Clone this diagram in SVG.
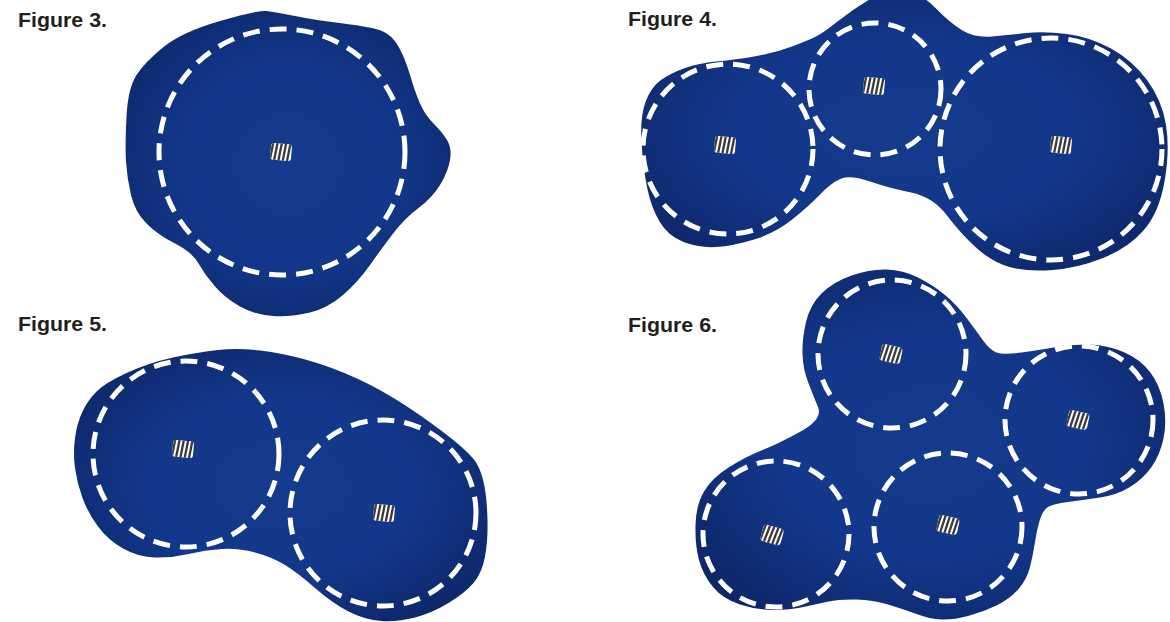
<svg xmlns="http://www.w3.org/2000/svg" xmlns:xlink="http://www.w3.org/1999/xlink" width="1170" height="622" viewBox="0 0 1170 622">
<style>
.lbl{font-family:"Liberation Sans",Arial,sans-serif;font-weight:bold;font-size:20px;fill:#231f20}
.blob{stroke:none}
.ring{fill:none;stroke:#fff;stroke-width:5;stroke-dasharray:17 10}
</style>
<defs>
<radialGradient id="g" cx="0.5" cy="0.5" r="0.6">
<stop offset="0" stop-color="#153b8c"/>
<stop offset="0.55" stop-color="#13378a"/>
<stop offset="1" stop-color="#0d2769"/>
</radialGradient>
<clipPath id="ic"><rect x="-10.5" y="-8.5" width="21" height="17" rx="3.5"/></clipPath>
<g id="icon">
<g clip-path="url(#ic)">
<rect x="-11" y="-9" width="22" height="18" fill="#fff"/>
<g stroke="#3a3a3a" stroke-width="2.3">
<line x1="-10.5" y1="9" x2="-8.5" y2="-9"/>
<line x1="-6.2" y1="9" x2="-4.2" y2="-9"/>
<line x1="-1.9" y1="9" x2="0.1" y2="-9"/>
<line x1="2.4" y1="9" x2="4.4" y2="-9"/>
<line x1="6.7" y1="9" x2="8.7" y2="-9"/>
</g>
</g>
</g>
</defs>
<rect width="1170" height="622" fill="#fff"/>

<g id="labels">
<text class="lbl" x="18" y="27" textLength="89" lengthAdjust="spacingAndGlyphs">Figure 3.</text>
<text class="lbl" x="628" y="26" textLength="89" lengthAdjust="spacingAndGlyphs">Figure 4.</text>
<text class="lbl" x="18" y="331" textLength="89" lengthAdjust="spacingAndGlyphs">Figure 5.</text>
<text class="lbl" x="628" y="332" textLength="89" lengthAdjust="spacingAndGlyphs">Figure 6.</text>
</g>

<g id="figure3">
<path class="blob" fill="url(#g)" d="M 266.5 11 Q 258 10 220 21 Q 182 32 163.5 47 Q 145 62 136.5 75 Q 128 88 126.5 116.5 Q 125 145 126 161.5 Q 127 178 131 195 Q 135 212 146.5 223.5 Q 158 235 175 243.5 Q 192 252 198.5 263.5 Q 205 275 215 286.5 Q 225 298 240 306.5 Q 255 315 273.5 316 Q 292 317 310 312.5 Q 328 308 343 295 Q 358 282 370 265 Q 382 248 393.5 233 Q 405 218 418.5 208 Q 432 198 440 185 Q 448 172 450 160 Q 452 148 447 140 Q 442 132 433.5 123.5 Q 425 115 420 103.5 Q 415 92 410 75 Q 405 58 398.5 46.5 Q 392 35 382 31 Q 372 27 343.5 23.5 Q 315 20 295 16 Q 275 12 266.5 11 Z"/>
<circle class="ring" cx="282" cy="152" r="123"/>
<use xlink:href="#icon" transform="translate(281 152) rotate(5)"/>
</g>

<g id="figure4">
<path class="blob" fill="url(#g)" d="M 816 36.5 Q 823 33 837.5 21.5 Q 852 10 868.5 0 Q 885 -10 902.5 -9 Q 920 -8 935 7.5 Q 950 23 962.5 30.5 Q 975 38 992 36.5 Q 1009 35 1026.5 33 Q 1044 31 1067 34 Q 1090 37 1111 48.5 Q 1132 60 1147 80 Q 1162 100 1166 125 Q 1170 150 1164.5 181.5 Q 1159 213 1143.5 230.5 Q 1128 248 1103 258 Q 1078 268 1052.5 270 Q 1027 272 1009.5 267 Q 992 262 976.5 248 Q 961 234 947 215.5 Q 933 197 911 192.5 Q 889 188 870 181.5 Q 851 175 841.5 178.5 Q 832 182 820 194.5 Q 808 207 791.5 220 Q 775 233 754 239.5 Q 733 246 716 247 Q 699 248 683.5 242 Q 668 236 659.5 221.5 Q 651 207 647 187 Q 643 167 641.5 142 Q 640 117 645.5 102 Q 651 87 661 80 Q 671 73 685 68 Q 699 63 716 61.5 Q 733 60 754 56.5 Q 775 53 792 46.5 Q 809 40 816 36.5 Z"/>
<circle class="ring" cx="728" cy="149" r="85"/>
<circle class="ring" cx="875" cy="89" r="66"/>
<circle class="ring" cx="1051" cy="149" r="111"/>
<use xlink:href="#icon" transform="translate(725 145) rotate(5)"/>
<use xlink:href="#icon" transform="translate(874 86) rotate(5)"/>
<use xlink:href="#icon" transform="translate(1061 145) rotate(5)"/>
</g>

<g id="figure5">
<path class="blob" fill="url(#g)" d="M 96.5 391.5 Q 105 383 126.5 373 Q 148 363 173 357.5 Q 198 352 218 350 Q 238 348 260 350.5 Q 282 353 307 360 Q 332 367 357 378.5 Q 382 390 407 406.5 Q 432 423 452 439 Q 472 455 477 464 Q 482 473 484.5 486.5 Q 487 500 487.5 520 Q 488 540 485 556.5 Q 482 573 473.5 583 Q 465 593 448.5 603 Q 432 613 415 617.5 Q 398 622 381.5 621 Q 365 620 348.5 611.5 Q 332 603 315 588 Q 298 573 285 565 Q 272 557 255 552.5 Q 238 548 221.5 549 Q 205 550 188.5 554 Q 172 558 155 557.5 Q 138 557 123 548.5 Q 108 540 98 526.5 Q 88 513 82.5 498 Q 77 483 75 468 Q 73 453 75 438 Q 77 423 82.5 411.5 Q 88 400 96.5 391.5 Z"/>
<circle class="ring" cx="186" cy="454" r="93"/>
<circle class="ring" cx="383" cy="513" r="93"/>
<use xlink:href="#icon" transform="translate(183 449) rotate(5)"/>
<use xlink:href="#icon" transform="translate(384 513) rotate(5)"/>
</g>

<g id="figure6">
<path class="blob" fill="url(#g)" d="M 802.5 354 Q 802 339 806 322 Q 810 305 821.5 293.5 Q 833 282 851.5 275.5 Q 870 269 886.5 269.5 Q 903 270 918 277.5 Q 933 285 945 295 Q 957 305 967 318.5 Q 977 332 983.5 341 Q 990 350 996.5 352.5 Q 1003 355 1021.5 352.5 Q 1040 350 1056.5 347 Q 1073 344 1090 344.5 Q 1107 345 1123.5 352 Q 1140 359 1150 372 Q 1160 385 1163.5 403.5 Q 1167 422 1163.5 438.5 Q 1160 455 1151.5 467 Q 1143 479 1130 487 Q 1117 495 1100 497.5 Q 1083 500 1068 502 Q 1053 504 1048 507 Q 1043 510 1040 519.5 Q 1037 529 1035 542 Q 1033 555 1030 567 Q 1027 579 1018.5 589 Q 1010 599 996.5 605.5 Q 983 612 968 616 Q 953 620 941.5 619.5 Q 930 619 916.5 614 Q 903 609 888 604.5 Q 873 600 856.5 599.5 Q 840 599 828.5 601.5 Q 817 604 803.5 607 Q 790 610 773.5 610 Q 757 610 740 604.5 Q 723 599 713 587 Q 703 575 699 560 Q 695 545 695.5 525 Q 696 505 704 491.5 Q 712 478 728.5 467.5 Q 745 457 762.5 450 Q 780 443 801.5 431 Q 823 419 818 407 Q 813 395 808 382 Q 803 369 802.5 354 Z"/>
<circle class="ring" cx="892" cy="354" r="74"/>
<circle class="ring" cx="1079" cy="420" r="74"/>
<circle class="ring" cx="776" cy="534" r="73"/>
<circle class="ring" cx="948" cy="527" r="74"/>
<use xlink:href="#icon" transform="translate(891 354) rotate(12)"/>
<use xlink:href="#icon" transform="translate(1078 420) rotate(12)"/>
<use xlink:href="#icon" transform="translate(772 535) rotate(15)"/>
<use xlink:href="#icon" transform="translate(948 525) rotate(12)"/>
</g>
</svg>
